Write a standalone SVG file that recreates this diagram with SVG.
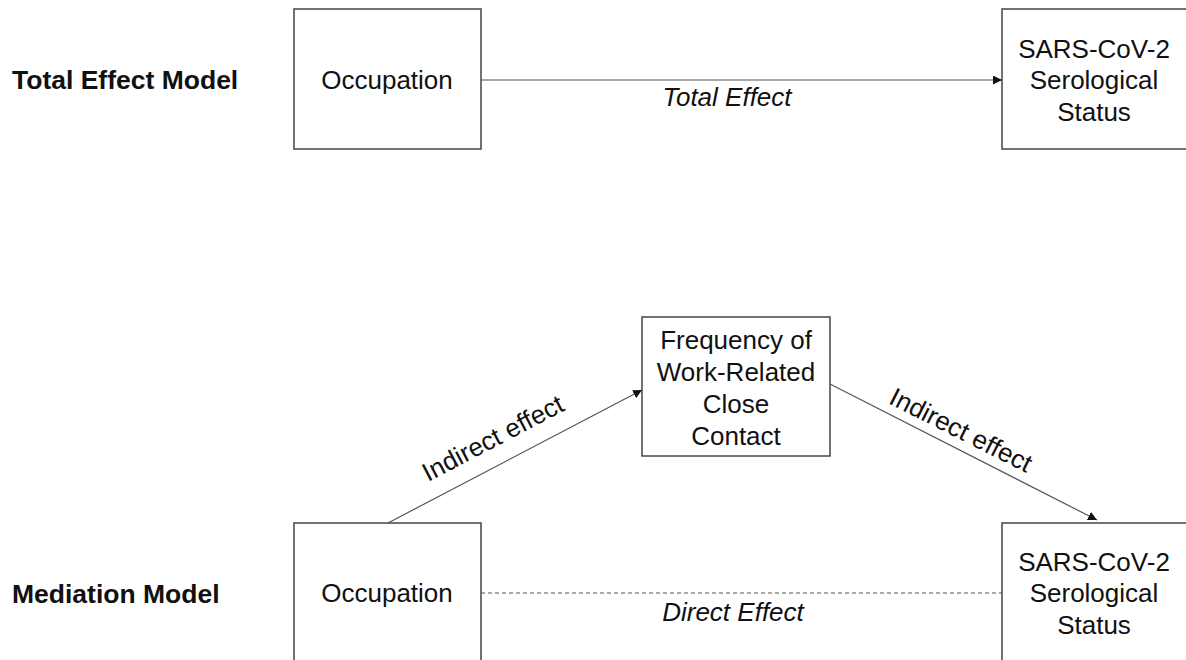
<svg xmlns="http://www.w3.org/2000/svg" width="1186" height="660" viewBox="0 0 1186 660">
<defs>
<style>
text{font-family:"Liberation Sans",Arial,sans-serif;font-size:26px;fill:#111;}
.t{text-anchor:middle;}
.b{font-weight:bold;font-size:26.5px;}
.i{font-style:italic;text-anchor:middle;}
.box{fill:#fff;stroke:#444;stroke-width:1.5;}
.ln{stroke:#555;stroke-width:1.2;fill:none;}
</style>
<marker id="ah" viewBox="0 0 10 10" refX="10" refY="5" markerWidth="9" markerHeight="9" markerUnits="userSpaceOnUse" orient="auto"><path d="M0,0 L10,5 L0,10 z" fill="#111"/></marker>
</defs>
<rect width="1186" height="660" fill="#fff"/>
<text class="b" x="12" y="89">Total Effect Model</text>
<text class="b" x="12" y="603">Mediation Model</text>
<g id="connectors">
<line class="ln" x1="481" y1="80" x2="1002" y2="80" marker-end="url(#ah)"/>
<line class="ln" x1="388" y1="523" x2="642" y2="390" marker-end="url(#ah)"/>
<line class="ln" x1="830" y1="384" x2="1097" y2="520" marker-end="url(#ah)"/>
<line class="ln" x1="481" y1="593" x2="1002" y2="593" stroke-dasharray="4,3"/>
<text class="i" x="727" y="106">Total Effect</text>
<text class="i" x="733" y="621">Direct Effect</text>
<text class="t" transform="translate(497,446) rotate(-27.6)">Indirect effect</text>
<text class="t" transform="translate(957,438) rotate(26.8)">Indirect effect</text>
</g>
<g id="occ1"><rect class="box" x="294" y="9" width="187" height="140"/><text class="t" x="387" y="89">Occupation</text></g>
<g id="sars1"><rect class="box" x="1002" y="9" width="190" height="140"/><text class="t" x="1094" y="58">SARS-CoV-2</text><text class="t" x="1094" y="89">Serological</text><text class="t" x="1094" y="121">Status</text></g>
<g id="freq"><rect class="box" x="642" y="317" width="188" height="139"/><text class="t" x="736" y="349">Frequency of</text><text class="t" x="736" y="381">Work-Related</text><text class="t" x="736" y="413">Close</text><text class="t" x="736" y="445">Contact</text></g>
<g id="occ2"><rect class="box" x="294" y="523" width="187" height="150"/><text class="t" x="387" y="602">Occupation</text></g>
<g id="sars2"><rect class="box" x="1002" y="523" width="190" height="150"/><text class="t" x="1094" y="571">SARS-CoV-2</text><text class="t" x="1094" y="602">Serological</text><text class="t" x="1094" y="634">Status</text></g>
</svg>
